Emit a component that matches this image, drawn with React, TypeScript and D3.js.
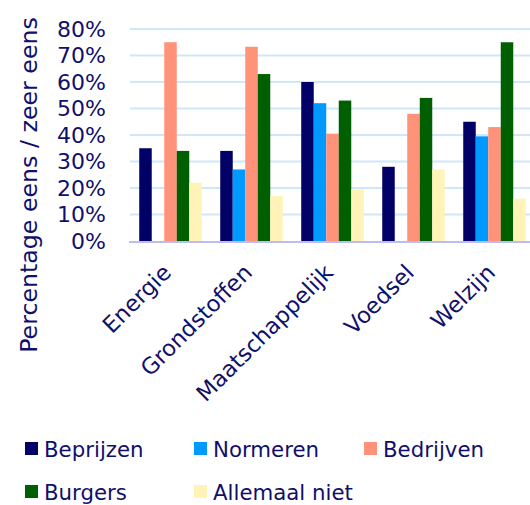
import { useEffect, useRef } from 'react';
import * as d3 from 'd3';

const categories = ['Energie', 'Grondstoffen', 'Maatschappelijk', 'Voedsel', 'Welzijn'];
const seriesNames = ['Beprijzen', 'Normeren', 'Bedrijven', 'Burgers', 'Allemaal niet'];
const seriesColors = ['#000066', '#0099ff', '#ff937a', '#005f00', '#fff3b8'];

// values per series, in category order (percent)
const beprijzen = [35, 34, 60, 28, 45];
const normeren = [0, 27, 52, 0, 39.5];
const bedrijven = [75, 73.3, 40.5, 48, 43];
const burgers = [34, 63, 53, 54, 75];
const allemaalNiet = [22, 17, 19.5, 27, 16];
const seriesValues = [beprijzen, normeren, bedrijven, burgers, allemaalNiet];

const yTicks = [0, 10, 20, 30, 40, 50, 60, 70, 80];

const FONT = 'DejaVu Sans, sans-serif';
const TEXT = '#10106b';

export default function App() {
  const svgRef = useRef<SVGSVGElement>(null);

  useEffect(() => {
    const svg = d3.select(svgRef.current);
    svg.selectAll('*').remove();

    const width = 530;
    const plotTop = 29;
    const plotBottom = 241;

    const y = d3.scaleLinear().domain([0, 80]).range([plotBottom, plotTop]);
    const x0 = d3
      .scaleBand()
      .domain(categories)
      .range([130, 535])
      .paddingInner(0.228)
      .paddingOuter(0.114);
    const x1 = d3
      .scaleBand()
      .domain(seriesNames)
      .range([0, x0.bandwidth()]);

    // grid lines
    svg
      .append('g')
      .selectAll('line')
      .data(yTicks.slice(1))
      .enter()
      .append('line')
      .attr('x1', 130)
      .attr('x2', width)
      .attr('y1', (d) => y(d))
      .attr('y2', (d) => y(d))
      .attr('stroke', '#cfe7f8')
      .attr('stroke-width', 2);

    // y tick labels
    svg
      .append('g')
      .selectAll('text')
      .data(yTicks)
      .enter()
      .append('text')
      .attr('x', 106)
      .attr('y', (d) => y(d))
      .attr('dy', '0.36em')
      .attr('text-anchor', 'end')
      .attr('fill', TEXT)
      .style('font-family', FONT)
      .style('font-size', '22px')
      .text((d) => `${d}%`);

    // bars
    const groups = svg
      .append('g')
      .selectAll('g')
      .data(categories)
      .enter()
      .append('g')
      .attr('transform', (c) => `translate(${x0(c)},0)`);

    groups
      .selectAll('rect')
      .data((_, ci) => seriesNames.map((s, si) => ({ s, si, v: seriesValues[si][ci] })))
      .enter()
      .filter((d) => d.v > 0)
      .append('rect')
      .attr('x', (d) => x1(d.s)!)
      .attr('y', (d) => y(d.v))
      .attr('width', x1.bandwidth())
      .attr('height', (d) => plotBottom - y(d.v))
      .attr('fill', (d) => seriesColors[d.si]);

    // baseline
    svg
      .append('line')
      .attr('x1', 129)
      .attr('x2', width)
      .attr('y1', plotBottom + 1)
      .attr('y2', plotBottom + 1)
      .attr('stroke', '#bcbcf2')
      .attr('stroke-width', 2);

    // category labels
    svg
      .append('g')
      .selectAll('text')
      .data(categories)
      .enter()
      .append('text')
      .attr('transform', (c) => {
        const cx = x0(c)! + x0.bandwidth() / 2 + 2;
        return `translate(${cx},${plotBottom + 33}) rotate(-45)`;
      })
      .attr('text-anchor', 'end')
      .attr('fill', TEXT)
      .style('font-family', FONT)
      .style('font-size', '22.5px')
      .text((c) => c);

    // y axis title
    svg
      .append('text')
      .attr('transform', `translate(37,185) rotate(-90)`)
      .attr('text-anchor', 'middle')
      .attr('fill', TEXT)
      .style('font-family', FONT)
      .style('font-size', '23.7px')
      .text('Percentage eens / zeer eens');

    // legend
    const legendPos = [
      [25, 449],
      [194, 449],
      [364, 449],
      [25, 492],
      [194, 492],
    ];
    const legend = svg
      .append('g')
      .selectAll('g')
      .data(seriesNames)
      .enter()
      .append('g')
      .attr('transform', (_, i) => `translate(${legendPos[i][0]},${legendPos[i][1]})`);
    legend
      .append('rect')
      .attr('x', 0)
      .attr('y', -7)
      .attr('width', 13)
      .attr('height', 13)
      .attr('fill', (_, i) => seriesColors[i]);
    legend
      .append('text')
      .attr('x', 19)
      .attr('y', 0)
      .attr('dy', '0.36em')
      .attr('fill', TEXT)
      .style('font-family', FONT)
      .style('font-size', '21.3px')
      .text((d) => d);
  }, []);

  return (
    <svg
      ref={svgRef}
      width={530}
      height={505}
      style={{ position: 'absolute', left: 0, top: 0, background: '#fff' }}
    />
  );
}
